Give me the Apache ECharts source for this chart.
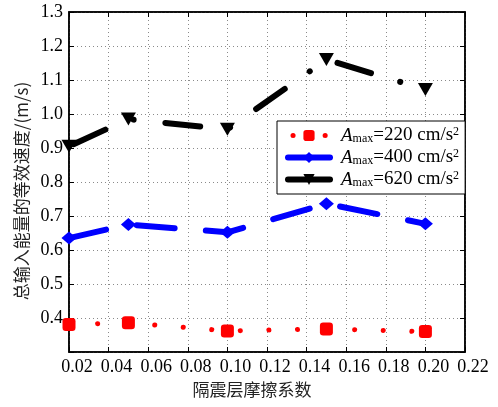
<!DOCTYPE html>
<html><head><meta charset="utf-8">
<script src="https://cdn.jsdelivr.net/npm/echarts@6/dist/echarts.min.js"></script>
<style>html,body{margin:0;padding:0;background:#fff}#c{width:498px;height:407px}</style>
</head><body><div id="c"></div>
<script>
var friction = [0.02, 0.05, 0.10, 0.15, 0.20];
var amaxLabels = ['220', '400', '620'];
var v220 = [0.381, 0.386, 0.362, 0.368, 0.360];
var v400 = [0.635, 0.675, 0.652, 0.736, 0.677];
var v620 = [0.905, 0.985, 0.955, 1.160, 1.072];
var xTicks = [0.02, 0.04, 0.06, 0.08, 0.10, 0.12, 0.14, 0.16, 0.18, 0.20, 0.22];
var yTicks = [0.4, 0.5, 0.6, 0.7, 0.8, 0.9, 1.0, 1.1, 1.2, 1.3];

function pairs(vals){ return friction.map(function(x,i){ return [x, vals[i]]; }); }
var serif = '"Liberation Serif","DejaVu Serif",serif';
var cjk = '"Noto Sans CJK SC","Noto Sans",sans-serif';

var chart = echarts.init(document.getElementById('c'), null, {renderer:'canvas'});
var gridSplit = {show:true, lineStyle:{color:'#8a8a8a', type:[1,3], width:1}};
chart.setOption({
  animation:false,
  backgroundColor:'#fff',
  grid:{left:69, right:33, top:12, bottom:55, show:true, borderColor:'#000', borderWidth:1.5, backgroundColor:'transparent'},
  xAxis:[{
    type:'value', min:0.02, max:0.22, interval:0.02,
    name:'隔震层摩擦系数', nameLocation:'middle', nameGap:26,
    nameTextStyle:{fontFamily:cjk, fontSize:17, color:'#222', padding:[0,30,0,0]},
    axisLine:{show:true, lineStyle:{color:'#000', width:1.5}},
    axisTick:{show:true, inside:true, length:5, lineStyle:{color:'#000'}},
    axisLabel:{fontFamily:serif, fontSize:18, color:'#000', margin:6, padding:[0,0,0,16],
      showMinLabel:true, showMaxLabel:true,
      formatter:function(v){ return xTicks.some(function(t){return Math.abs(t-v)<1e-9;}) ? v.toFixed(2) : ''; }},
    splitLine:gridSplit
  },{
    type:'value', position:'top', min:0.02, max:0.22, interval:0.02,
    axisLine:{show:true, lineStyle:{color:'#000', width:1.5}},
    axisTick:{show:true, inside:true, length:5, lineStyle:{color:'#000'}},
    axisLabel:{show:false}, splitLine:{show:false}
  }],
  yAxis:[{
    type:'value', min:0.3, max:1.3, interval:0.1,
    name:'总输入能量的等效速度/(m/s)', nameLocation:'middle', nameGap:38,
    nameTextStyle:{fontFamily:cjk, fontSize:17, color:'#222', padding:[0,18,0,0]},
    axisLine:{show:true, lineStyle:{color:'#000', width:1.5}},
    axisTick:{show:true, inside:true, length:5, lineStyle:{color:'#000'}},
    axisLabel:{fontFamily:serif, fontSize:18, color:'#000', margin:6, showMinLabel:true,
      formatter:function(v){ return yTicks.some(function(t){return Math.abs(t-v)<1e-9;}) ? v.toFixed(1) : ''; }},
    splitLine:gridSplit
  },{
    type:'value', position:'right', min:0.3, max:1.3, interval:0.1,
    axisLine:{show:true, lineStyle:{color:'#000', width:1.5}},
    axisTick:{show:true, inside:true, length:5, lineStyle:{color:'#000'}},
    axisLabel:{show:false}, splitLine:{show:false}
  }],
  legend:{
    orient:'vertical', left:277, top:121, width:186,
    backgroundColor:'#fff', borderColor:'#000', borderWidth:1,
    padding:[5,6,5,8], itemGap:3, itemWidth:42, itemHeight:14,
    data:[
      {name:amaxLabels[0], lineStyle:{type:[0.1,32], dashOffset:-5, width:5, cap:'round'}},
      {name:amaxLabels[1], lineStyle:{type:'solid', width:6}},
      {name:amaxLabels[2], lineStyle:{type:'solid', width:6}}
    ],
    formatter:function(n){ return '{i|A}{s|max}{t|=' + n + ' cm/s}{p|2}'; },
    textStyle:{
      rich:{
        i:{fontFamily:serif, fontStyle:'italic', fontSize:19, color:'#000', lineHeight:19, verticalAlign:'middle', padding:[0,0,0,6]},
        s:{fontFamily:serif, fontSize:12, color:'#000', lineHeight:12, verticalAlign:'bottom'},
        t:{fontFamily:serif, fontSize:19, color:'#000', lineHeight:19, verticalAlign:'middle'},
        p:{fontFamily:serif, fontSize:12, color:'#000', lineHeight:12, verticalAlign:'top'}
      }
    }
  },
  series:[
    {name:amaxLabels[0], type:'line', data:pairs(v220), color:'#ff0000',
     symbol:'roundRect', symbolSize:13,
     lineStyle:{color:'#ff0000', width:5, type:[0.1,28.5], cap:'round'},
     itemStyle:{color:'#ff0000'}},
    {name:amaxLabels[1], type:'line', data:pairs(v400), color:'#0000ff',
     symbol:'diamond', symbolSize:[15,13],
     lineStyle:{color:'#0000ff', width:6, type:[38,31.3], cap:'round'},
     itemStyle:{color:'#0000ff'}},
    {name:amaxLabels[2], type:'line', data:pairs(v620), color:'#000',
     symbol:'triangle', symbolRotate:180, symbolSize:[15,13],
     lineStyle:{color:'#000', width:6, type:[35,30.5,0.1,31.9], dashOffset:-5, cap:'round'},
     itemStyle:{color:'#000'}}
  ]
});
</script></body></html>
